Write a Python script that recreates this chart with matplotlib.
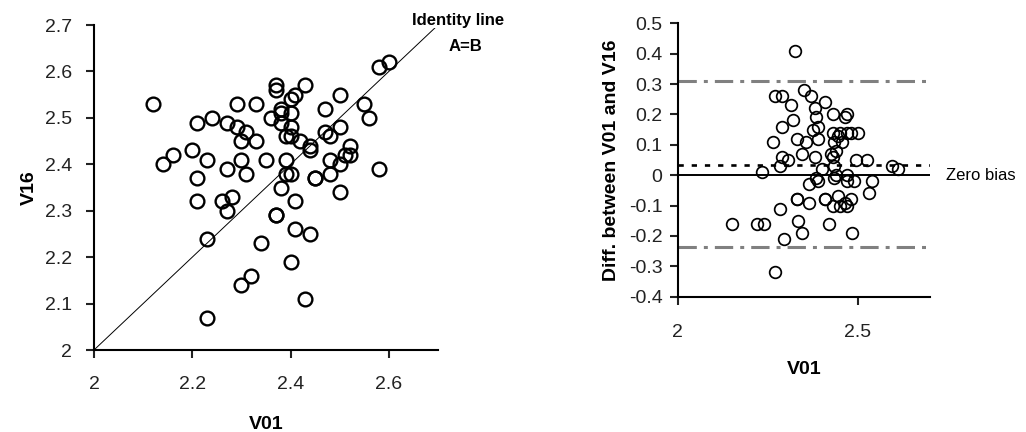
import matplotlib
matplotlib.use("Agg")
import matplotlib.pyplot as plt
import numpy as np

plt.rcParams['font.family'] = ['Liberation Sans', 'DejaVu Sans']

# visit 1 (V01) and visit 16 (V16) values
v01 = [2.12, 2.14, 2.16, 2.20, 2.21, 2.24, 2.23, 2.21, 2.21, 2.26,
       2.28, 2.27, 2.23, 2.27, 2.27, 2.29, 2.29, 2.31, 2.30, 2.30,
       2.31, 2.33, 2.33, 2.35, 2.36, 2.37, 2.37, 2.38, 2.40, 2.38,
       2.40, 2.39, 2.40, 2.41, 2.40, 2.43, 2.42, 2.44, 2.44, 2.39,
       2.39, 2.40, 2.38, 2.41, 2.37, 2.37, 2.41, 2.44, 2.34, 2.47,
       2.50, 2.47, 2.48, 2.50, 2.45, 2.45, 2.48, 2.50, 2.51, 2.52,
       2.52, 2.48, 2.50, 2.55, 2.56, 2.58, 2.58, 2.60, 2.40, 2.32,
       2.30, 2.43, 2.23, 2.38]
v16 = [2.53, 2.40, 2.42, 2.43, 2.49, 2.50, 2.41, 2.37, 2.32, 2.32,
       2.33, 2.30, 2.24, 2.39, 2.49, 2.53, 2.48, 2.47, 2.45, 2.41,
       2.38, 2.45, 2.53, 2.41, 2.50, 2.57, 2.56, 2.52, 2.51, 2.49,
       2.48, 2.46, 2.46, 2.55, 2.54, 2.57, 2.45, 2.44, 2.43, 2.41,
       2.38, 2.38, 2.35, 2.32, 2.29, 2.29, 2.26, 2.25, 2.23, 2.52,
       2.55, 2.47, 2.46, 2.48, 2.37, 2.37, 2.41, 2.40, 2.42, 2.44,
       2.42, 2.38, 2.34, 2.53, 2.50, 2.39, 2.61, 2.62, 2.19, 2.16,
       2.14, 2.11, 2.07, 2.51]

# bias and limits of agreement as drawn in the original
bias = 0.034
loa_upper = 0.31
loa_lower = -0.235

left_xticks = [2.0, 2.2, 2.4, 2.6]
left_yticks = [2.0, 2.1, 2.2, 2.3, 2.4, 2.5, 2.6, 2.7]
right_xticks = [2.0, 2.5]
right_yticks = [-0.4, -0.3, -0.2, -0.1, 0.0, 0.1, 0.2, 0.3, 0.4, 0.5]

a = np.array(v01)
b = np.array(v16)
means = (a + b) / 2
diffs = b - a


def fmt(v):
    return f"{v:g}"


fig = plt.figure(figsize=(10.26, 4.32), dpi=100)

# ---- left panel: V16 against V01 with identity line
ax1 = fig.add_axes([0.0916, 0.1898, 0.3353, 0.7523])
ax1.plot([2.0, 2.7], [2.0, 2.7], color='black', lw=0.7, zorder=1)
ax1.plot(v01, v16, 'o', ms=9.9, mfc='none', mec='black', mew=1.7, zorder=2)
ax1.set_xlim(2.0, 2.7)
ax1.set_ylim(2.0, 2.7)
ax1.set_xticks(left_xticks)
ax1.set_xticklabels([fmt(t) for t in left_xticks])
ax1.set_yticks(left_yticks)
ax1.set_yticklabels([fmt(t) for t in left_yticks])
ax1.set_xlabel('V01', fontsize=14, fontweight='bold', labelpad=16)
ax1.set_ylabel('V16', fontsize=14, fontweight='bold', labelpad=5)
ax1.text(2.741, 2.709, 'Identity line', fontsize=12, fontweight='bold',
         ha='center', va='center', clip_on=False,
         bbox=dict(facecolor='white', edgecolor='none', pad=0))
ax1.text(2.755, 2.653, 'A=B', fontsize=12, fontweight='bold',
         ha='center', va='center', clip_on=False)

# ---- right panel: Bland-Altman plot
ax2 = fig.add_axes([0.6605, 0.3132, 0.2459, 0.6329])
ax2.axhline(0, color='black', lw=1.4, zorder=1)
ax2.axhline(bias, color='black', lw=1.9, dashes=(2, 3), zorder=1)
ax2.axhline(loa_upper, color='#808080', lw=2.2, dashes=(6, 2.3, 1.3, 2.3), zorder=1)
ax2.axhline(loa_lower, color='#808080', lw=2.2, dashes=(6, 2.3, 1.3, 2.3), zorder=1)
ax2.plot(means, diffs, 'o', ms=8.4, mfc='none', mec='black', mew=1.25, zorder=2)
ax2.set_xlim(2.0, 2.7)
ax2.set_ylim(-0.4, 0.5)
ax2.set_xticks(right_xticks)
ax2.set_xticklabels([fmt(t) for t in right_xticks])
ax2.set_yticks(right_yticks)
ax2.set_yticklabels([fmt(round(t, 1)) for t in right_yticks])
ax2.set_xlabel('V01', fontsize=14, fontweight='bold', labelpad=14)
ax2.set_ylabel('Diff. between V01 and V16', fontsize=14, fontweight='bold', labelpad=6)
ax2.text(2.745, 0.0, 'Zero bias', fontsize=12, ha='left', va='center', clip_on=False)

for ax in (ax1, ax2):
    ax.spines['top'].set_visible(False)
    ax.spines['right'].set_visible(False)
    ax.spines['left'].set_linewidth(1.5)
    ax.spines['bottom'].set_linewidth(1.5)
    ax.tick_params(direction='out', length=6, width=1.5, labelsize=14, colors='#222222')

ax1.tick_params(axis='x', pad=13)
ax1.tick_params(axis='y', pad=10)
ax2.tick_params(axis='x', pad=14)
ax2.tick_params(axis='y', pad=5)

fig.savefig('out.png', dpi=100)
